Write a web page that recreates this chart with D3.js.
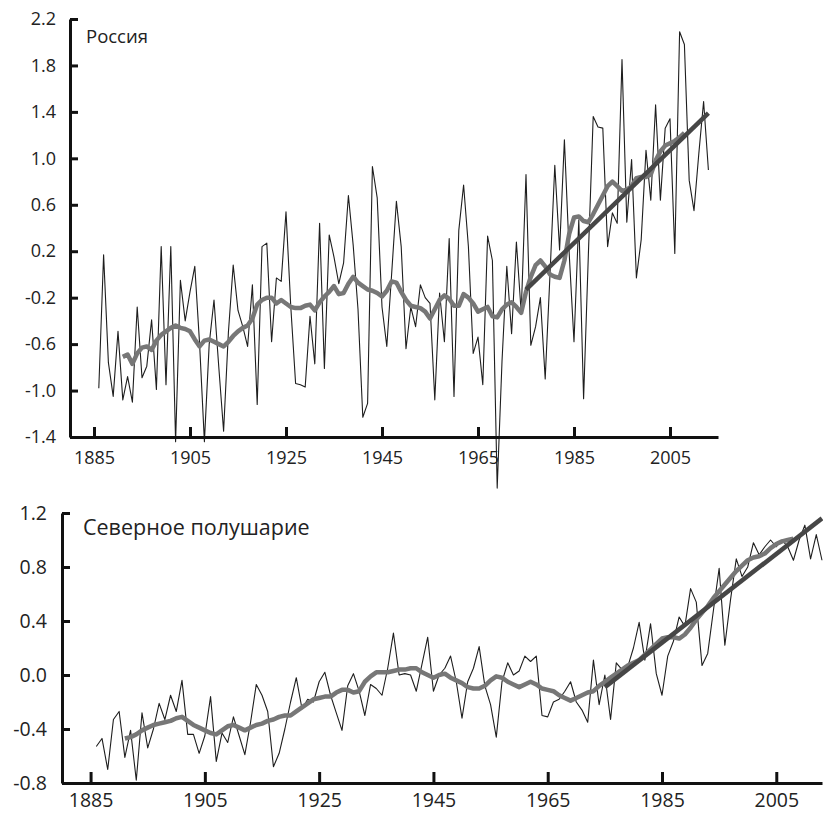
<!DOCTYPE html>
<html>
<head>
<meta charset="utf-8">
<script src="https://cdn.jsdelivr.net/npm/d3@7"></script>
<style>
  body { margin: 0; background: #fff; }
  text { font-family: "Open Sans", "Noto Sans", sans-serif; fill: #222; }
</style>
</head>
<body>
<svg id="my_svg"></svg>
<script>
const width = 823;
const height = 815;

// Россия: годовые аномалии 1886-2013, сглаженный ряд 1891-2008, линейный тренд
const russiaFirstYear = 1886;
const russiaAnnual = [
  -0.98, 0.17, -0.76, -1.05,
  -0.49, -1.08, -0.88, -1.10, -0.28, -0.89, -0.79, -0.39, -0.99, 0.24,
  -0.95, 0.24, -1.44, -0.05, -0.40, -0.15, 0.07, -0.60, -1.44, -0.60,
  -0.22, -0.80, -1.35, -0.50, 0.08, -0.31, -0.45, -0.62, -0.09, -1.12,
  0.24, 0.27, -0.58, -0.03, -0.06, 0.54, -0.28, -0.94, -0.95, -0.97,
  -0.36, -0.77, 0.44, -0.81, 0.34, 0.15, -0.08, 0.10, 0.68, 0.25,
  -0.30, -1.23, -1.11, 0.93, 0.66, -0.28, -0.62, 0.00, 0.63, 0.24,
  -0.64, -0.28, -0.45, -0.09, -0.20, -0.25, -1.08, -0.16, -0.58, 0.31,
  -1.05, 0.38, 0.77, 0.24, -0.68, -0.54, -0.95, 0.33, 0.12, -1.84,
  -0.75, 0.07, -0.51, 0.28, -0.33, 0.86, -0.61, -0.45, -0.20, -0.90,
  0.00, 0.94, 0.21, 1.16, 0.18, -0.58, 0.47, -1.07, 0.18, 1.36,
  1.27, 1.26, 0.24, 0.53, 0.44, 1.85, 0.45, 0.99, -0.03, 0.30,
  1.07, 0.64, 1.46, 0.64, 1.26, 1.34, 0.18, 2.09, 1.98, 0.81,
  0.55, 1.04, 1.49, 0.90
];
const russiaSmoothFirstYear = 1891;
const russiaSmooth = [
  -0.71, -0.69, -0.77, -0.68, -0.63, -0.62, -0.65, -0.57, -0.52,
  -0.49, -0.46, -0.44, -0.46, -0.47, -0.49, -0.56, -0.62, -0.57, -0.56,
  -0.58, -0.60, -0.62, -0.58, -0.53, -0.49, -0.46, -0.44, -0.38, -0.26,
  -0.22, -0.20, -0.20, -0.25, -0.22, -0.25, -0.28, -0.29, -0.29, -0.27,
  -0.26, -0.31, -0.24, -0.19, -0.15, -0.10, -0.17, -0.16, -0.08, -0.02,
  -0.07, -0.10, -0.13, -0.14, -0.16, -0.19, -0.14, -0.06, -0.07, -0.15,
  -0.22, -0.27, -0.28, -0.29, -0.32, -0.38, -0.30, -0.22, -0.18, -0.21,
  -0.27, -0.27, -0.17, -0.20, -0.25, -0.32, -0.30, -0.28, -0.36, -0.37,
  -0.30, -0.26, -0.24, -0.28, -0.33, -0.15, -0.02, 0.08, 0.12, 0.07,
  0.00, -0.02, -0.03, 0.12, 0.35, 0.49, 0.50, 0.46, 0.45, 0.52,
  0.60, 0.68, 0.76, 0.80, 0.76, 0.72, 0.73, 0.76, 0.83, 0.84,
  0.84, 0.86, 0.98, 1.06, 1.11, 1.13, 1.15, 1.18, 1.22
];
const russiaTrend = [[1975, -0.13], [2013, 1.39]];

// Северное полушарие
const nhFirstYear = 1886;
const nhAnnual = [
  -0.53, -0.47, -0.70, -0.33,
  -0.27, -0.61, -0.41, -0.78, -0.28, -0.54, -0.40, -0.21, -0.33, -0.15,
  -0.27, -0.04, -0.44, -0.44, -0.58, -0.45, -0.16, -0.64, -0.43, -0.50,
  -0.31, -0.45, -0.59, -0.35, -0.07, -0.15, -0.27, -0.68, -0.58, -0.40,
  -0.20, -0.02, -0.25, -0.18, -0.20, -0.05, 0.02, -0.15, -0.28, -0.41,
  -0.08, 0.01, -0.12, -0.30, -0.07, -0.10, -0.15, 0.05, 0.31, 0.00,
  0.01, 0.00, -0.12, 0.08, 0.28, -0.12, 0.00, 0.05, 0.14, -0.05,
  -0.32, -0.05, 0.05, 0.21, -0.08, -0.22, -0.46, -0.05, 0.09, 0.00,
  0.03, 0.14, 0.10, 0.14, -0.30, -0.31, -0.20, -0.18, -0.12, -0.05,
  -0.20, -0.26, -0.35, 0.11, -0.22, 0.00, -0.33, 0.09, 0.04, 0.06,
  0.20, 0.39, 0.11, 0.38, 0.01, -0.15, 0.14, 0.25, 0.43, 0.36,
  0.64, 0.54, 0.07, 0.16, 0.48, 0.79, 0.22, 0.56, 0.86, 0.73,
  0.80, 0.98, 0.89, 0.95, 1.00, 0.95, 1.00, 0.95, 0.85, 1.00,
  1.11, 0.86, 1.04, 0.85
];
const nhSmoothFirstYear = 1891;
const nhSmooth = [
  -0.47, -0.46, -0.44, -0.41, -0.39, -0.37, -0.36, -0.35, -0.34,
  -0.32, -0.31, -0.34, -0.37, -0.39, -0.41, -0.43, -0.44, -0.41, -0.38,
  -0.37, -0.39, -0.41, -0.39, -0.37, -0.36, -0.34, -0.33, -0.31, -0.30,
  -0.30, -0.27, -0.24, -0.21, -0.18, -0.17, -0.16, -0.16, -0.13, -0.11,
  -0.11, -0.13, -0.12, -0.05, -0.01, 0.02, 0.02, 0.02, 0.03, 0.04,
  0.04, 0.05, 0.05, 0.02, 0.00, -0.02, 0.00, 0.01, -0.02, -0.04,
  -0.06, -0.09, -0.10, -0.10, -0.08, -0.04, -0.01, -0.02, -0.05, -0.07,
  -0.09, -0.07, -0.05, -0.07, -0.10, -0.11, -0.12, -0.15, -0.17, -0.19,
  -0.17, -0.15, -0.13, -0.12, -0.08, -0.05, -0.02, 0.01, 0.04, 0.07,
  0.09, 0.11, 0.15, 0.19, 0.23, 0.27, 0.28, 0.28, 0.27, 0.30,
  0.35, 0.41, 0.46, 0.51, 0.57, 0.62, 0.67, 0.72, 0.77, 0.81,
  0.85, 0.87, 0.88, 0.90, 0.94, 0.97, 0.99, 1.00, 1.01
];
const nhTrend = [[1975, -0.09], [2013, 1.16]];

// подписи осей
const yearTicks = [1885, 1905, 1925, 1945, 1965, 1985, 2005];
const russiaTicks = [-1.4, -1.0, -0.6, -0.2, 0.2, 0.6, 1.0, 1.4, 1.8, 2.2];
const nhTicks = [-0.8, -0.4, 0.0, 0.4, 0.8, 1.2];

const svg = d3.select('#my_svg')
  .attr('width', width)
  .attr('height', height);

function toPoints(values, firstYear) {
  return values.map((v, i) => [firstYear + i, v]);
}

function drawPanel(p) {
  const g = svg.append('g');

  const x = d3.scaleLinear().domain(p.xDomain).range(p.xRange);
  const y = d3.scaleLinear().domain(p.yDomain).range(p.yRange);

  const line = d3.line()
    .x(d => x(d[0]))
    .y(d => y(d[1]));

  // годовые значения - тонкая линия
  g.append('path')
    .datum(toPoints(p.annual, p.annualStart))
    .attr('d', line)
    .attr('fill', 'none')
    .attr('stroke', '#1e1e1e')
    .attr('stroke-width', 1.1)
    .attr('stroke-linejoin', 'round');

  // сглаженный ряд - толстая серая линия
  g.append('path')
    .datum(toPoints(p.smooth, p.smoothStart))
    .attr('d', line)
    .attr('fill', 'none')
    .attr('stroke', '#777')
    .attr('stroke-width', 4.5)
    .attr('stroke-linejoin', 'round');

  // линейный тренд
  g.append('path')
    .datum(p.trend)
    .attr('d', line)
    .attr('fill', 'none')
    .attr('stroke', '#464646')
    .attr('stroke-width', 4.5);

  // оси: засечки внутрь
  const xAxis = d3.axisBottom(x)
    .tickValues(yearTicks)
    .tickFormat(d => d)
    .tickSizeInner(-p.xTick)
    .tickSizeOuter(0)
    .tickPadding(p.xPad);

  const yAxis = d3.axisLeft(y)
    .tickValues(p.yTicks)
    .tickFormat(d => d.toFixed(1))
    .tickSizeInner(-8)
    .tickSizeOuter(0)
    .tickPadding(p.yPad);

  const gx = g.append('g')
    .attr('transform', `translate(0, ${p.yRange[0]})`)
    .call(xAxis);

  const gy = g.append('g')
    .attr('transform', `translate(${p.xRange[0]}, 0)`)
    .call(yAxis);

  [gx, gy].forEach(a => {
    a.select('.domain').attr('stroke', '#111').attr('stroke-width', 3);
    a.selectAll('.tick line').attr('stroke', '#111').attr('stroke-width', 3);
    a.selectAll('.tick text')
      .attr('fill', '#222')
      .style('font-family', '"Open Sans", sans-serif')
      .style('font-size', p.fontSize + 'px');
  });

  g.append('text')
    .attr('x', p.titleX)
    .attr('y', p.titleY)
    .style('font-size', p.titleSize + 'px')
    .text(p.title);
}

drawPanel({
  title: 'Россия',
  titleX: 86, titleY: 43, titleSize: 18.5,
  annual: russiaAnnual, annualStart: russiaFirstYear,
  smooth: russiaSmooth, smoothStart: russiaSmoothFirstYear,
  trend: russiaTrend,
  xDomain: [1880, 2015], xRange: [70, 718],
  yDomain: [-1.4, 2.2], yRange: [437, 19],
  yTicks: russiaTicks,
  xTick: 10, xPad: 14, yPad: 14, fontSize: 18
});

drawPanel({
  title: 'Северное полушарие',
  titleX: 83, titleY: 535, titleSize: 21.5,
  annual: nhAnnual, annualStart: nhFirstYear,
  smooth: nhSmooth, smoothStart: nhSmoothFirstYear,
  trend: nhTrend,
  xDomain: [1880, 2013], xRange: [62, 822],
  yDomain: [-0.8, 1.2], yRange: [783, 513],
  yTicks: nhTicks,
  xTick: 11, xPad: 10, yPad: 15, fontSize: 19.5
});
</script>
</body>
</html>
